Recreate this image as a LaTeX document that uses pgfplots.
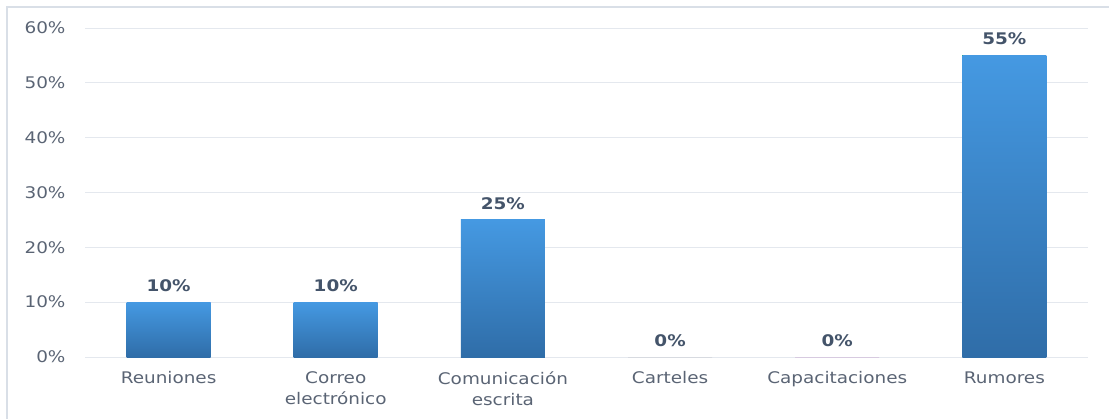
\documentclass[border=0pt]{standalone}
\usepackage{fontspec}
\setmainfont{DejaVu Sans}[FakeStretch=1.15]
\usepackage{pgfplots}
\pgfplotsset{compat=1.18}

\definecolor{gridgray}{HTML}{E4E8EE}
\definecolor{framegray}{HTML}{D9DFE7}
\definecolor{ticktext}{HTML}{5A6474}
\definecolor{labeltext}{HTML}{44546A}
\definecolor{bartop}{HTML}{4599E2}
\definecolor{barbottom}{HTML}{2F6DA8}

\begin{document}
\begin{tikzpicture}
    \begin{axis}[
        scale only axis,
        width=1003pt,
        height=329pt,
        xmin=-0.5, xmax=5.5,
        ymin=0, ymax=60,
        ytick={0,10,...,60},
        xtick={0,...,5},
        xticklabels={Reuniones, Correo\\electrónico, Comunicación\\escrita, Carteles, Capacitaciones, Rumores},
        /pgf/number format/assume math mode=true,
        yticklabel={\pgfmathprintnumber{\tick}\%},
        ymajorgrids,
        grid style={gridgray, line width=1pt},
        axis line style={draw=none},
        major tick length=0pt,
        tick label style={font=\fontsize{16pt}{21pt}\selectfont, text=ticktext},
        xticklabel style={align=center, yshift=-11pt},
        yticklabel style={xshift=-16pt},
        ybar,
        bar width=84pt,
        bar shift=0pt,
        nodes near coords={\pgfmathprintnumber{\pgfplotspointmeta}\%},
        nodes near coords style={font=\bfseries\fontsize{16pt}{19pt}\selectfont, text=labeltext, yshift=7pt},
        every axis plot/.append style={draw=none, top color=bartop, bottom color=barbottom},
    ]
        % one plot per bar, so that each bar gets its own gradient
        \addplot coordinates {(0,10)};
        \addplot coordinates {(1,10)};
        \addplot coordinates {(2,25)};
        \addplot coordinates {(3,0)};
        \addplot coordinates {(4,0)};
        \addplot coordinates {(5,55)};
    \end{axis}
    \draw[framegray, line width=2pt] (-77.5pt,-62pt) -- (-77.5pt,350pt) -- (1025pt,350pt);
    \pgfresetboundingbox
    \path[use as bounding box] (-85pt,-61pt) rectangle (1024pt,357pt);
\end{tikzpicture}
\end{document}
